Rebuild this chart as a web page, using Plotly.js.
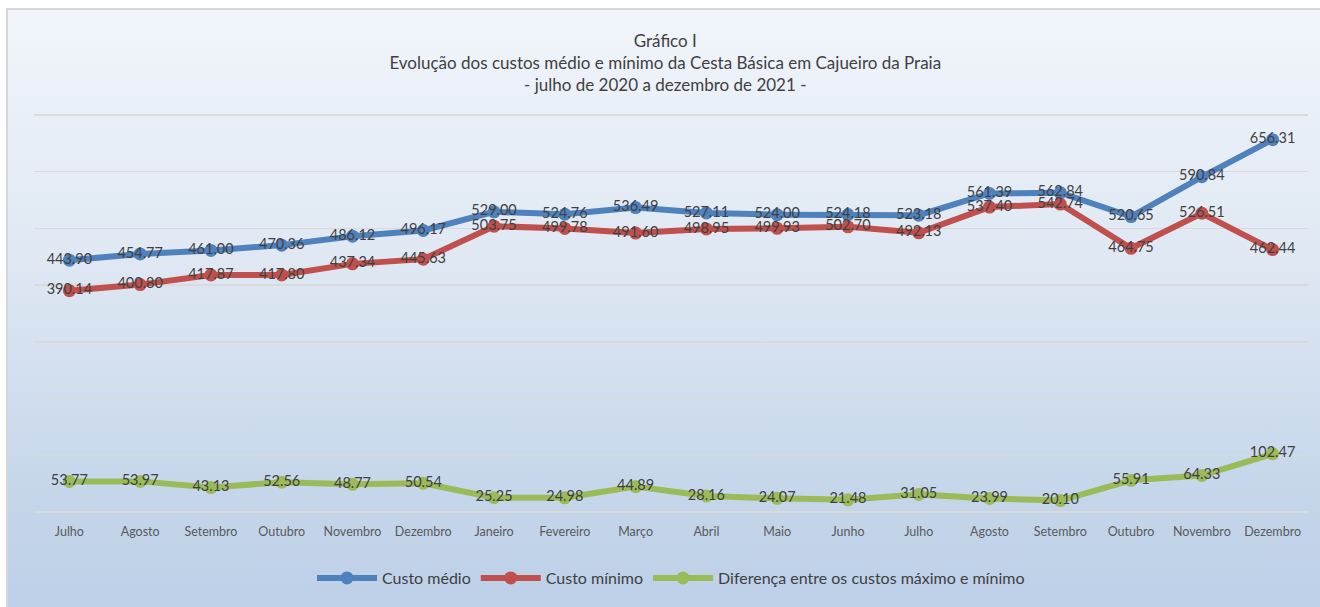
<!DOCTYPE html>
<html>
<head>
<meta charset="utf-8">
<script src="https://cdn.plot.ly/plotly-3.0.1.min.js"></script>
<style>
  html, body { margin: 0; padding: 0; background: #ffffff; width: 1320px; height: 607px; overflow: hidden; }
  #frame { position: absolute; left: 6px; top: 8px; width: 1330px; height: 620px;
           border-left: 2px solid #d6d6d6; border-top: 2px solid #d6d6d6;
           background: linear-gradient(to bottom, #f1f5fb 0%, #dfe8f3 40%, #c4d5ea 80%, #bccfe7 100%); }
  #chart { position: absolute; left: 0; top: 0; width: 1320px; height: 607px; }
</style>
</head>
<body>
<div id="frame"></div>
<div id="chart"></div>
<script>
const months = ["Julho","Agosto","Setembro","Outubro","Novembro","Dezembro","Janeiro","Fevereiro","Março","Abril","Maio","Junho","Julho","Agosto","Setembro","Outubro","Novembro","Dezembro"];
const custoMedio = [443.90,454.77,461.00,470.36,486.12,496.17,529.00,524.76,536.49,527.11,524.00,524.18,523.18,561.39,562.84,520.65,590.84,656.31];
const custoMinimo = [390.14,400.80,417.87,417.80,437.34,445.63,503.75,499.78,491.60,498.95,499.93,502.70,492.13,537.40,542.74,464.75,526.51,462.44];
const diferenca = [53.77,53.97,43.13,52.56,48.77,50.54,25.25,24.98,44.89,28.16,24.07,21.48,31.05,23.99,20.10,55.91,64.33,102.47];
const seriesNames = ["Custo médio","Custo mínimo","Diferença entre os custos máximo e mínimo"];
const gridValues = [100,200,300,400,500,600,700];

const idx = months.map((_, i) => i);
const fmt = v => v.toFixed(2);

function mk(vals, name, color) {
  return {
    x: idx, y: vals, name: name, type: 'scatter', mode: 'lines+markers+text',
    line: { color: color, width: 6 },
    marker: { color: color, size: 13 },
    text: vals.map(fmt), textposition: 'middle center',
    textfont: { family: 'Lato, sans-serif', size: 14.5, color: '#404040' },
    hoverinfo: 'none', cliponaxis: false
  };
}

const data = [
  mk(custoMedio, seriesNames[0], '#4F81BD'),
  mk(custoMinimo, seriesNames[1], '#C0504D'),
  mk(diferenca, seriesNames[2], '#9BBB59')
];

const layout = {
  width: 1320, height: 607,
  margin: { l: 34, r: 12, t: 112, b: 93 },
  paper_bgcolor: 'rgba(0,0,0,0)', plot_bgcolor: 'rgba(0,0,0,0)',
  font: { family: 'Lato, sans-serif', color: '#404040' },
  title: {
    text: 'Gráfico I<br>Evolução dos custos médio e mínimo da Cesta Básica em Cajueiro da Praia<br>- julho de 2020 a dezembro de 2021 -',
    font: { family: 'Lato, sans-serif', size: 17, color: '#404040' },
    x: 0.504, xanchor: 'center', y: 1 - 47/607, yanchor: 'top'
  },
  xaxis: {
    range: [-0.5, 17.5], tickmode: 'array', tickvals: idx, ticktext: months,
    showgrid: false, zeroline: false, showline: false,
    ticks: 'outside', ticklen: 8, tickcolor: 'rgba(0,0,0,0)',
    tickfont: { family: 'Lato, sans-serif', size: 12.5, color: '#595959' }, fixedrange: true
  },
  yaxis: {
    range: [0, 705], tickmode: 'array', tickvals: gridValues, showticklabels: false, ticks: '',
    gridcolor: 'rgba(217,217,217,0.95)', gridwidth: 1.5,
    zeroline: true, zerolinecolor: 'rgba(217,217,217,0.95)', zerolinewidth: 1.5,
    showline: false, fixedrange: true
  },
  showlegend: true,
  legend: {
    orientation: 'h', x: 0.5, xanchor: 'center', y: -0.165, yanchor: 'middle',
    font: { family: 'Lato, sans-serif', size: 16, color: '#404040' },
    bgcolor: 'rgba(0,0,0,0)', itemwidth: 60, traceorder: 'normal'
  },
  hovermode: false
};

Plotly.newPlot('chart', data, layout, { displayModeBar: false, staticPlot: true });
</script>
</body>
</html>
